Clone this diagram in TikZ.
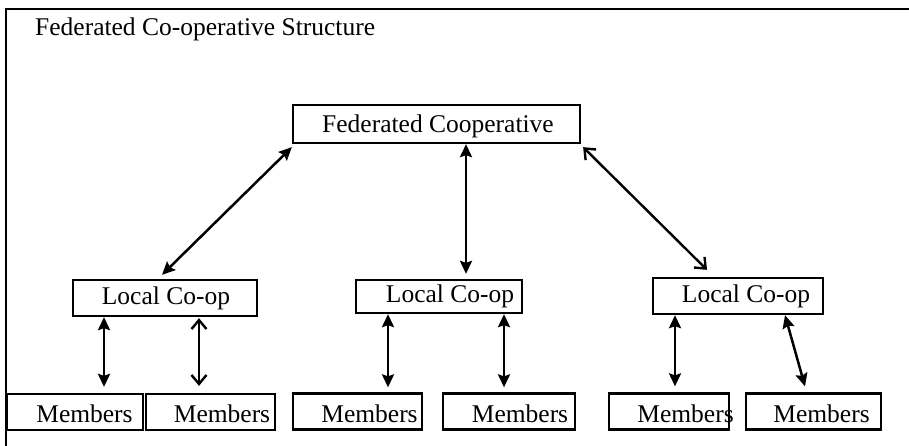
\documentclass[tikz,border=0pt]{standalone}
\usepackage{fontspec}
\setmainfont{Liberation Serif}
\usetikzlibrary{arrows.meta}
\begin{document}
\begin{tikzpicture}[x=1pt,y=-1pt,
  txt/.style={font=\fontsize{25.5}{30}\selectfont, inner sep=0pt},
  box/.style={draw, line width=2.3pt, inner sep=0pt},
  solidlink/.style={line width=2.5pt, {Stealth[length=13pt,width=12pt,inset=2pt]}-{Stealth[length=13pt,width=12pt,inset=2pt]}},
  openlink/.style={line width=2.4pt, {Straight Barb[length=9pt,width=15pt]}-{Straight Barb[length=9pt,width=15pt]}}]
\useasboundingbox (0,0) rectangle (909,445);

% outer frame
\draw[line width=2.4pt] (6,446) -- (6,9) -- (910,9);

% title
\node[txt, anchor=base west] (title) at (35,35) {Federated Co-operative Structure};

% top level
\node[box, minimum width=287pt, minimum height=38pt,
      label={[txt, xshift=1.5pt, yshift=-2pt]center:Federated Cooperative}] (fed) at (436.5,124) {};

% local co-ops
\node[box, minimum width=184pt, minimum height=36pt,
      label={[txt, xshift=1pt]center:Local Co-op}] (l1) at (165,298) {};
\node[box, minimum width=166pt, minimum height=33pt,
      label={[txt, xshift=11pt]center:Local Co-op}] (l2) at (439,296.5) {};
\node[box, minimum width=170pt, minimum height=36pt,
      label={[txt, xshift=8pt]center:Local Co-op}] (l3) at (738,296) {};

% members
\tikzset{mbox/.style={box, minimum height=36pt}}
\node[mbox, minimum width=136pt, label={[txt, xshift=9.5pt, yshift=-2pt]center:Members}] (m1) at (75,412) {};
\node[mbox, minimum width=129pt, label={[txt, xshift=11.5pt, yshift=-2pt]center:Members}] (m2) at (210.5,412) {};
\node[mbox, minimum width=129pt, label={[txt, xshift=12pt, yshift=-2pt]center:Members}] (m3) at (357.5,411.5) {};
\node[mbox, minimum width=132pt, label={[txt, xshift=11pt, yshift=-2pt]center:Members}] (m4) at (509,411.5) {};
\node[mbox, minimum width=120pt, label={[txt, xshift=16.5pt, yshift=-2pt]center:Members}] (m5) at (669,411.5) {};
\node[mbox, minimum width=135pt, label={[txt, xshift=8pt, yshift=-2pt]center:Members}] (m6) at (813.5,411.5) {};

% federation to local co-ops
\draw[solidlink] ([yshift=-3pt]fed.south west) -- ([xshift=-3pt,yshift=4pt]l1.north);
\draw[solidlink] ([xshift=29.5pt]fed.south) -- ([xshift=27pt,yshift=5pt]l2.north);
\draw[openlink] ([xshift=2pt,yshift=-3pt]fed.south east) -- ([xshift=-31pt,yshift=7pt]l3.north);

% local co-ops to members
\draw[solidlink] ([xshift=-61pt]l1.south) -- ([xshift=29pt,yshift=6pt]m1.north);
\draw[openlink]  ([xshift=34pt,yshift=-1pt]l1.south) -- ([xshift=-11.5pt,yshift=7pt]m2.north);
\draw[solidlink] ([xshift=-51pt]l2.south) -- ([xshift=30.5pt,yshift=5pt]m3.north);
\draw[solidlink] ([xshift=65pt]l2.south) -- ([xshift=-5pt,yshift=5pt]m4.north);
\draw[solidlink] ([xshift=-63pt]l3.south) -- ([xshift=6pt,yshift=6pt]m5.north);
\draw[solidlink] ([xshift=47pt]l3.south) -- ([xshift=-8.5pt,yshift=6pt]m6.north);
\end{tikzpicture}
\end{document}
